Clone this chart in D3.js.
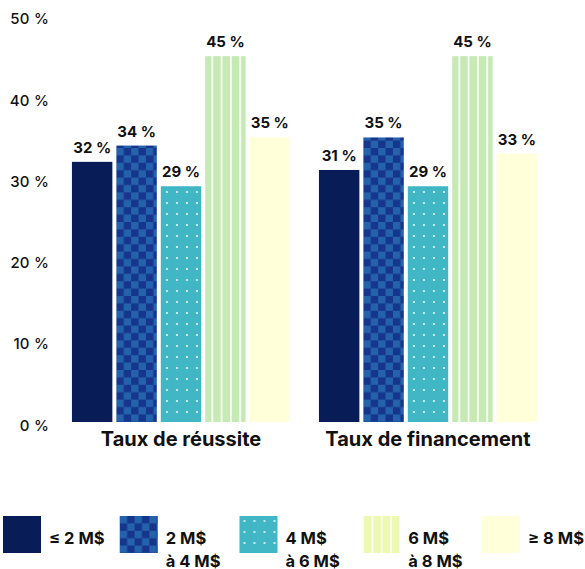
<!DOCTYPE html>
<html><head><meta charset="utf-8">
<script src="https://cdn.jsdelivr.net/npm/d3@7/dist/d3.min.js"></script>
<style>
body{margin:0;background:#fff;}
svg{display:block;font-family:Inter,"Noto Sans",sans-serif;}
</style></head>
<body><svg id="chart" width="585" height="569"></svg>
<script>
const groups = ["Taux de réussite", "Taux de financement"];
const series = ["≤ 2 M$", "2 M$ à 4 M$", "4 M$ à 6 M$", "6 M$ à 8 M$", "≥ 8 M$"];
const legendLines = [["≤ 2 M$"], ["2 M$", "à 4 M$"], ["4 M$", "à 6 M$"], ["6 M$", "à 8 M$"], ["≥ 8 M$"]];
const reussite = [32, 34, 29, 45, 35];
const financement = [31, 35, 29, 45, 33];
const valueLabels = [["32 %", "34 %", "29 %", "45 %", "35 %"], ["31 %", "35 %", "29 %", "45 %", "33 %"]];
const tickValues = [0, 10, 20, 30, 40, 50];
const tickLabels = ["0 %", "10 %", "20 %", "30 %", "40 %", "50 %"];
const values = [reussite, financement];

const svg = d3.select("#chart");
const defs = svg.append("defs");

function checker(id) {
  const p = defs.append("pattern").attr("id", id).attr("patternUnits", "userSpaceOnUse")
    .attr("width", 14.8).attr("height", 14.8);
  p.append("rect").attr("width", 14.8).attr("height", 14.8).attr("fill", "#16358c");
  p.append("rect").attr("width", 7.4).attr("height", 7.4).attr("fill", "#2462ab");
  p.append("rect").attr("x", 7.4).attr("y", 7.4).attr("width", 7.4).attr("height", 7.4).attr("fill", "#2462ab");
}
function dots(id) {
  const p = defs.append("pattern").attr("id", id).attr("patternUnits", "userSpaceOnUse")
    .attr("width", 10).attr("height", 11);
  p.append("rect").attr("width", 10).attr("height", 11).attr("fill", "#41b6c4");
  p.append("circle").attr("cx", 5).attr("cy", 5).attr("r", 1.1).attr("fill", "#e6f6f8");
}
function stripes(id, color) {
  const p = defs.append("pattern").attr("id", id).attr("patternUnits", "userSpaceOnUse")
    .attr("width", 9.3).attr("height", 10);
  p.append("rect").attr("width", 9.3).attr("height", 10).attr("fill", color);
  p.append("rect").attr("x", 0).attr("width", 1.6).attr("height", 10).attr("fill", "#ffffff");
}
checker("pChk");
dots("pDot");
stripes("pStr", "#c7e9b4");
stripes("pStrL", "#edf8b1");

const barFills = ["#081d58", "url(#pChk)", "url(#pDot)", "url(#pStr)", "#ffffd9"];
const legendFills = ["#081d58", "url(#pChk)", "url(#pDot)", "url(#pStrL)", "#ffffd9"];

const y = d3.scaleLinear().domain([0, 50]).range([422, 15.5]);
const x0 = d3.scaleBand().domain(groups).range([57.5, 551.5]).paddingInner(0.117).paddingOuter(0.0585);
const x1 = d3.scaleBand().domain(series).range([0, x0.bandwidth()]).paddingInner(0.09).paddingOuter(0);

const yAxis = d3.axisLeft(y).tickValues(tickValues).tickFormat((d, i) => tickLabels[i]).tickSize(0).tickPadding(0);
const ag = svg.append("g").attr("transform", "translate(49,0)").call(yAxis);
ag.select(".domain").remove();
ag.selectAll("text").attr("font-size", 15).attr("font-weight", 500).attr("fill", "#111")
  .attr("font-family", "Inter,'Noto Sans',sans-serif").attr("dy", "0.55em").attr("letter-spacing", "0.2px");

const gg = svg.selectAll("g.grp").data(groups).join("g").attr("class", "grp")
  .attr("transform", d => `translate(${x0(d)},0)`);
gg.each(function(g, gi) {
  const sel = d3.select(this);
  sel.selectAll("rect").data(series).join("rect")
    .attr("x", s => x1(s)).attr("width", x1.bandwidth())
    .attr("y", (s, i) => y(values[gi][i]))
    .attr("height", (s, i) => y(0) - y(values[gi][i]))
    .attr("fill", (s, i) => barFills[i]);
  sel.selectAll("text.val").data(series).join("text").attr("class", "val")
    .attr("x", s => x1(s) + x1.bandwidth() / 2)
    .attr("y", (s, i) => y(values[gi][i]) - 9)
    .attr("text-anchor", "middle").attr("font-size", 15).attr("font-weight", 700).attr("fill", "#111")
    .text((s, i) => valueLabels[gi][i]);
  sel.append("text").attr("x", x0.bandwidth() / 2).attr("y", 446)
    .attr("text-anchor", "middle").attr("font-size", 20).attr("font-weight", 700).attr("fill", "#111")
    .text(g);
});

const lx = d3.scaleLinear().domain([0, series.length - 1]).range([3, 482]);
const lg = svg.selectAll("g.leg").data(series).join("g").attr("class", "leg")
  .attr("transform", (d, i) => `translate(${lx(i) - (i === 1 || i === 2 ? 3 : 0)},516)`);
lg.append("rect").attr("width", 38).attr("height", 37).attr("fill", (d, i) => legendFills[i]);
lg.each(function(d, i) {
  const t = d3.select(this).append("text").attr("x", 46).attr("y", 28)
    .attr("font-size", 16.5).attr("font-weight", 700).attr("fill", "#111");
  legendLines[i].forEach((ln, k) => {
    t.append("tspan").attr("x", 46).attr("dy", k === 0 ? 0 : 22.5).text(ln);
  });
});
</script>
</body></html>
